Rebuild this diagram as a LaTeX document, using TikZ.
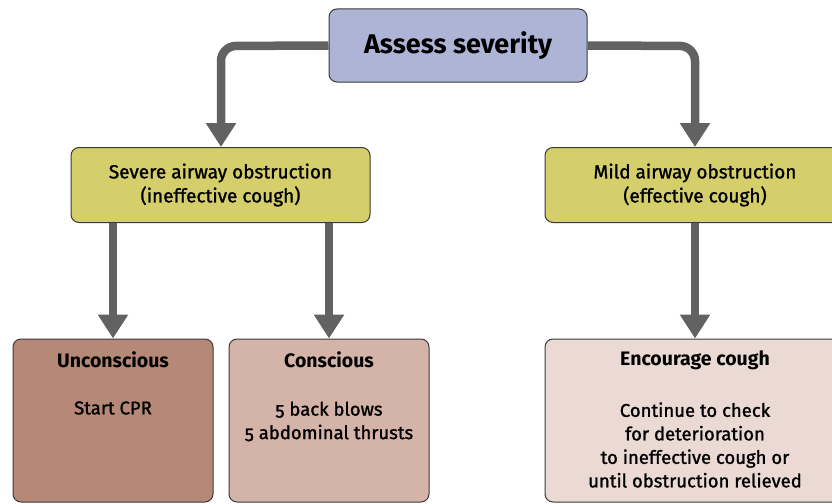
\documentclass[tikz,border=0pt]{standalone}
\usepackage{fontspec}
\setmainfont{Fira Sans}[Numbers=OldStyle]
\newfontfamily\medfont{Fira Sans}[Numbers=OldStyle,FakeBold=1.3]
\usetikzlibrary{arrows.meta}
\definecolor{boxline}{HTML}{3A3A3A}
\definecolor{assessfill}{HTML}{AEB4D6}
\definecolor{yellowfill}{HTML}{D4CF6A}
\definecolor{uncfill}{HTML}{B58878}
\definecolor{conscfill}{HTML}{D4B4A9}
\definecolor{encfill}{HTML}{EBDAD3}
\definecolor{arrowgray}{HTML}{626262}
\tikzset{
  box/.style={draw=boxline, line width=1pt, rounded corners=8pt, inner sep=0pt, align=center},
  flow/.style={draw=arrowgray, line width=8.5pt, rounded corners=15pt,
    -{Triangle[length=24pt,width=29pt]}},
  headtxt/.style={font=\fontsize{19.5}{23.5}\selectfont\bfseries},
  bodytxt/.style={font=\medfont\fontsize{18.5}{23.5}\selectfont, align=center},
}
\begin{document}
\begin{tikzpicture}[x=1pt,y=-1pt]
\useasboundingbox (0,0) rectangle (832,503);
\begin{scope}
\clip (0,0) rectangle (832,503);
% boxes
\node[box, fill=assessfill, minimum width=258pt, minimum height=73pt,
  font=\fontsize{27}{30}\selectfont\bfseries] (assess) at (458,45.5) {Assess severity};
\node[box, fill=yellowfill, minimum width=299pt, minimum height=75pt,
  font=\medfont\fontsize{19}{24}\selectfont] (severe) at (220.5,185)
  {Severe airway obstruction\\(ineffective cough)};
\node[box, fill=yellowfill, minimum width=300pt, minimum height=75pt,
  font=\medfont\fontsize{19}{24}\selectfont] (mild) at (695,185)
  {Mild airway obstruction\\(effective cough)};
\node[box, fill=uncfill, minimum width=200pt, minimum height=163pt] (unc) at (113,420.5) {};
\node[box, fill=conscfill, minimum width=200pt, minimum height=163pt] (consc) at (329,420.5) {};
\node[box, fill=encfill, minimum width=300pt, minimum height=163pt] (enc) at (695,420.5) {};
% texts in bottom boxes
\node[headtxt] (unct) at (113,360) {Unconscious};
\node[bodytxt] (uncb) at (113,408) {Start CPR};
\node[headtxt] (consct) at (329,360) {Conscious};
\node[bodytxt] (conscb) at (329,421.5) {5 back blows\\5 abdominal thrusts};
\node[headtxt] (enct) at (695,360) {Encourage cough};
\node[bodytxt] (encb) at (695,445) {Continue to check\\for deterioration\\to ineffective cough or\\until obstruction relieved};
\end{scope}
% connectors
\coordinate (lc) at (221,46);
\coordinate (rc) at (695,46);
\draw[flow] (assess.west) -- (lc) -- (lc |- severe.north);
\draw[flow] (assess.east) -- (rc) -- (rc |- mild.north);
\draw[flow] (unc.north |- severe.south) -- (unc.north);
\draw[flow] (consc.north |- severe.south) -- (consc.north);
\draw[flow] (enc.north |- mild.south) -- (enc.north);
\end{tikzpicture}
\end{document}
